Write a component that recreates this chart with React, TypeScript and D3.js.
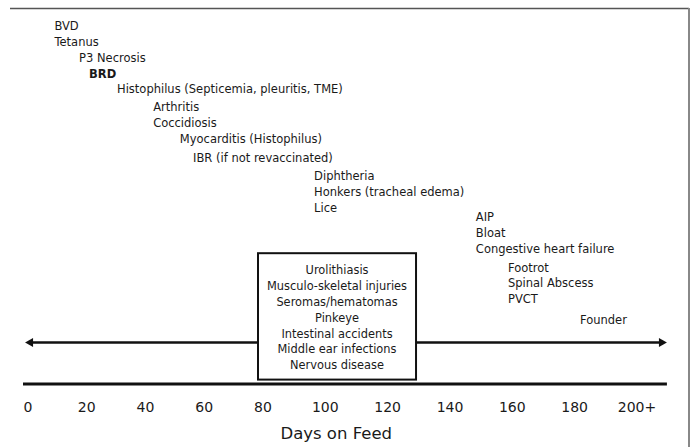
import React from 'react';
import { scaleLinear, scalePoint } from 'd3';

const d3 = { scaleLinear, scalePoint };

const WIDTH = 691;
const HEIGHT = 447;
const FONT = "'DejaVu Sans', Verdana, sans-serif";

// diseases, the day they start to show up, and the row they sit on
const diseases = [
    'BVD', 'Tetanus', 'P3 Necrosis', 'BRD',
    'Histophilus (Septicemia, pleuritis, TME)',
    'Arthritis', 'Coccidiosis', 'Myocarditis (Histophilus)', 'IBR (if not revaccinated)',
    'Diphtheria', 'Honkers (tracheal edema)', 'Lice',
    'AIP', 'Bloat', 'Congestive heart failure',
    'Footrot', 'Spinal Abscess', 'PVCT', 'Founder',
];
const onsetDays = [9, 9, 17.4, 20.8, 30.3, 42.6, 42.6, 51.7, 56.2, 96.4, 96.4, 96.4, 148.3, 148.3, 148.3, 158.6, 158.6, 158.6, 181.7];
const rows = [0, 1, 2, 3, 3.94, 5.06, 6.06, 7.06, 8.22, 9.375, 10.375, 11.375, 11.94, 12.94, 13.94, 15.125, 16.06, 17.06, 18.375];
const boldDiseases = ['BRD'];

// anytime during the feeding period
const boxItems = [
    'Urolithiasis', 'Musculo-skeletal injuries', 'Seromas/hematomas', 'Pinkeye',
    'Intestinal accidents', 'Middle ear infections', 'Nervous disease',
];
const boxDays = [78.3, 129.1];
const boxRows = [14.2, 22.1];

const tickDays = [0, 20, 40, 60, 80, 100, 120, 140, 160, 180, 200];
const tickLabels = ['0', '20', '40', '60', '80', '100', '120', '140', '160', '180', '200+'];

const arrowDays = [-1, 209.6];
const axisDays = [-1.7, 209.6];
const ARROW_ROW = 19.78;
const AXIS_ROW = 22.375;

const App = () => {
    // TODO the printed ticks are not evenly spaced, hence the extra stop
    const x = d3.scaleLinear().domain([0, 80, 200]).range([28, 263, 637]);
    const y = d3.scaleLinear().domain([0, 1]).range([26, 42]);
    const boxY = d3.scalePoint().domain(boxItems).range([y(15.25), y(21.2)]);

    const arrowY = y(ARROW_ROW);
    const axisY = y(AXIS_ROW);
    const [ax0, ax1] = arrowDays.map(x);
    const head = (tip: number, dir: number) =>
        `M${tip},${arrowY} L${tip + dir * 8},${arrowY - 4.5} L${tip + dir * 8},${arrowY + 4.5} Z`;

    return (
        <svg width={WIDTH} height={HEIGHT}
            style={{ position: 'absolute', left: 0, top: 0, background: '#fff' }}
            fontFamily={FONT}>

            {/* frame */}
            <line x1={10} x2={689} y1={8.5} y2={8.5} stroke="#555" strokeWidth={1.5} />
            <line x1={689} x2={689} y1={8} y2={HEIGHT} stroke="#888" strokeWidth={2} />

            {/* double arrow */}
            <line x1={ax0 + 6} x2={ax1 - 6} y1={arrowY} y2={arrowY} stroke="#111" strokeWidth={2.5} />
            <path d={head(ax0, 1)} fill="#111" />
            <path d={head(ax1, -1)} fill="#111" />

            {/* axis */}
            <line x1={x(axisDays[0])} x2={x(axisDays[1])} y1={axisY} y2={axisY} stroke="#111" strokeWidth={3} />
            <g fontSize={14} fill="#1a1a1a" textAnchor="middle">
                {tickDays.map((d, i) => (
                    <text key={d} x={x(d)} y={412}>{tickLabels[i]}</text>
                ))}
            </g>
            <text x={x(103.5)} y={439} textAnchor="middle" fontSize={16.5} fill="#1a1a1a">Days on Feed</text>

            {/* box */}
            <rect x={x(boxDays[0])} y={y(boxRows[0])}
                width={x(boxDays[1]) - x(boxDays[0])} height={y(boxRows[1]) - y(boxRows[0])}
                fill="#fff" stroke="#111" strokeWidth={2} />
            <g fontSize={11.4} fill="#1a1a1a" textAnchor="middle">
                {boxItems.map(t => (
                    <text key={t} x={(x(boxDays[0]) + x(boxDays[1])) / 2} y={boxY(t)} dy="0.36em">{t}</text>
                ))}
            </g>

            {/* diseases */}
            <g fontSize={11.5} fill="#1a1a1a">
                {diseases.map((t, i) => (
                    <text key={t} x={x(onsetDays[i])} y={y(rows[i])} dy="0.36em"
                        fontWeight={boldDiseases.includes(t) ? 'bold' : 'normal'}>{t}</text>
                ))}
            </g>
        </svg>
    );
};

export default App;
